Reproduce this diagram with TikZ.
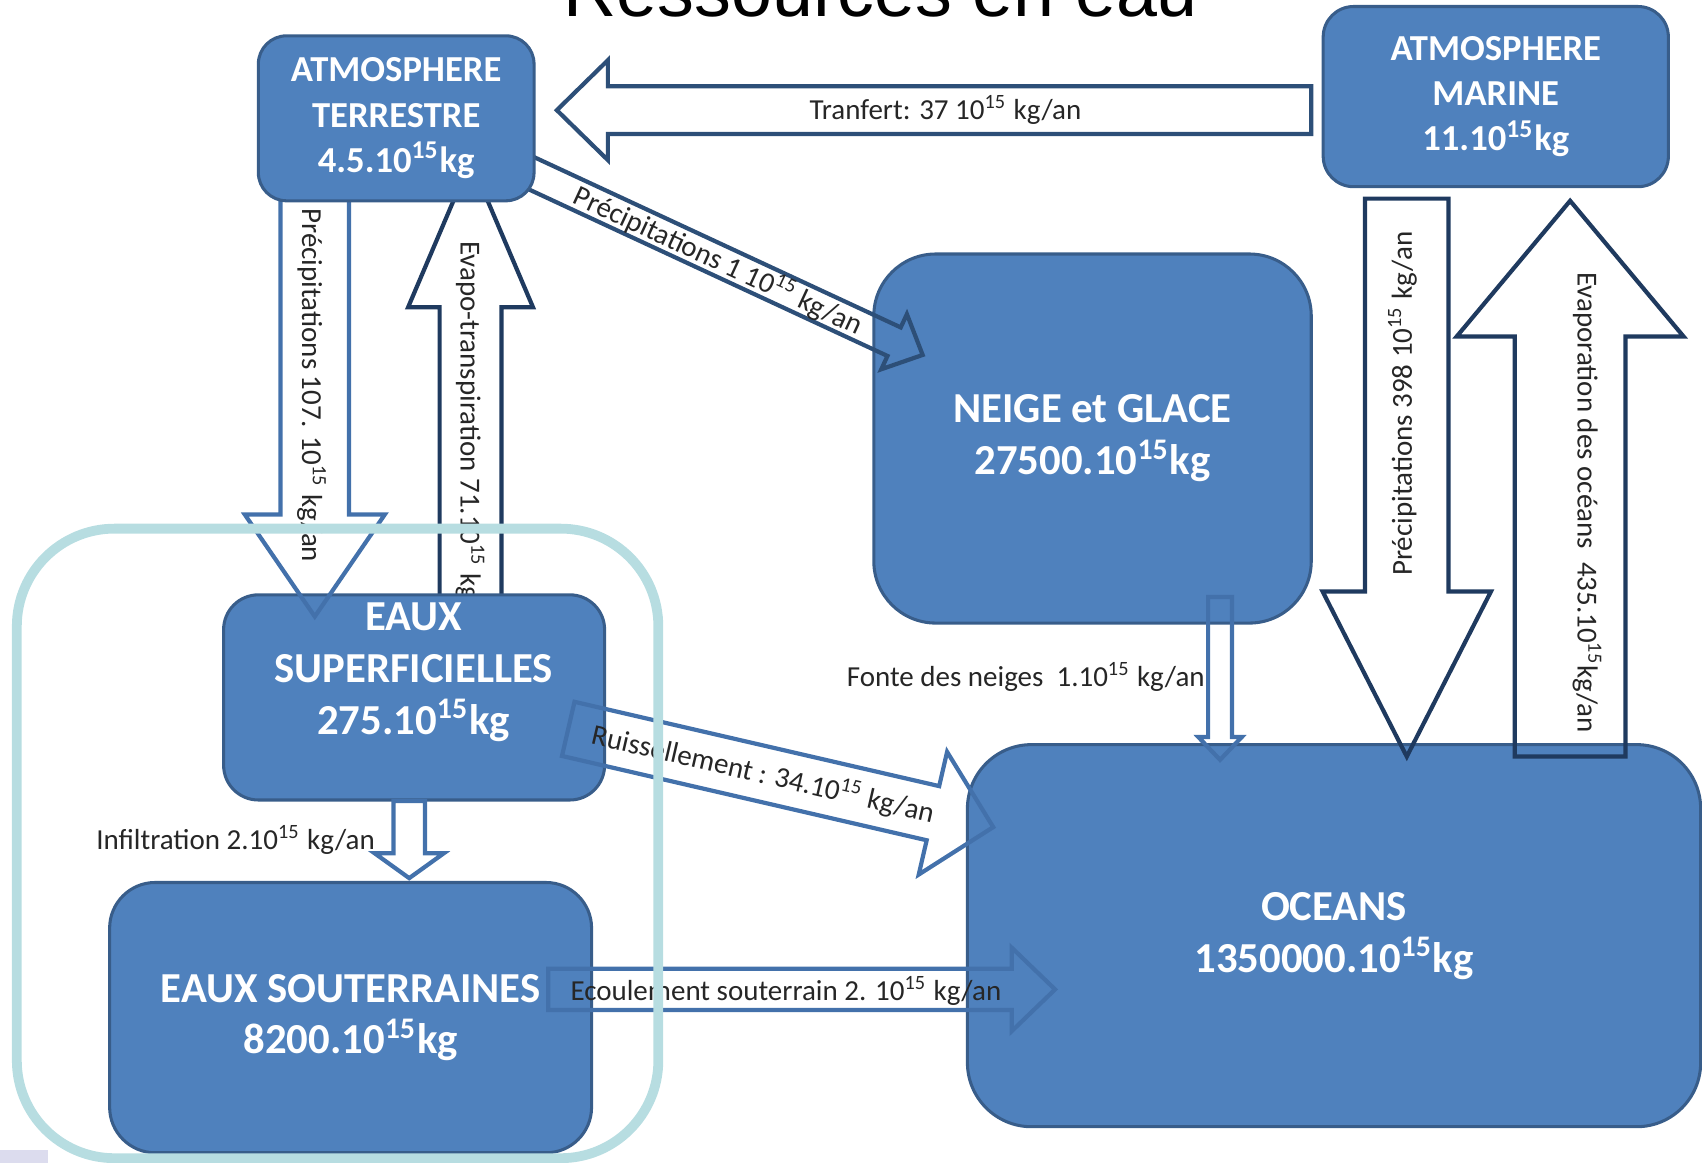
\documentclass[tikz,border=0pt]{standalone}
\usepackage{fontspec}
\setmainfont{Carlito}
\newfontfamily\titleFont{Liberation Sans}
\usetikzlibrary{calc}
\definecolor{boxBlue}{HTML}{4F81BD}
\definecolor{boxEdge}{HTML}{385D8A}
\definecolor{arrowNavy}{HTML}{1F3A5F}
\definecolor{arrowSlate}{HTML}{2D4F78}
\definecolor{arrowBlue}{HTML}{4371AB}
\definecolor{frameCyan}{HTML}{B7DDE1}
\definecolor{cornerLilac}{HTML}{DCDCEE}
\tikzset{
  reservoir/.style={rectangle, draw=boxEdge, line width=0.8pt, fill=boxBlue, text=white, align=center, inner sep=0pt, font=\bfseries\fontsize{11.2}{13.6}\selectfont},
  reservoirText/.style={text=white, align=center, inner sep=0pt, font=\bfseries\fontsize{11.2}{13.6}\selectfont},
  atmBox/.style={reservoir, font=\bfseries\fontsize{9.6}{11.9}\selectfont},
  blockNavy/.style={draw=arrowNavy, line width=1.1pt},
  blockSlate/.style={draw=arrowSlate, line width=1.1pt},
  blockBlue/.style={draw=arrowBlue, line width=1.1pt},
  flowLabel/.style={font=\fontsize{7.6}{9}\selectfont, text=black!85, inner sep=0pt},
  groupFrame/.style={rectangle, draw=frameCyan, line width=0.09cm, rounded corners=0.9cm},
  title/.style={font=\titleFont\fontsize{19.3}{23}\selectfont, anchor=base, inner sep=0pt}
}
\newcommand{\expo}{10\textsuperscript{15}}
\newcommand{\blockArrow}[6]{%
  \coordinate (#2base) at ($(#3)!#6!(#2)$);
  \draw[#1] ($(#2)!#4!90:(#3)$) -- ($(#2base)!#4!-90:(#2)$) -- ($(#2base)!#5!-90:(#2)$) -- (#3)
    -- ($(#2base)!#5!90:(#2)$) -- ($(#2base)!#4!90:(#2)$) -- ($(#2)!#4!-90:(#3)$) -- cycle;
}

\begin{document}
\begin{tikzpicture}[x=1cm,y=1cm]
\useasboundingbox (0,0) rectangle (15.68,-10.71);
\clip (0,0) rectangle (15.68,-10.71);

% ------------------------------------------------------------------
% Title
% ------------------------------------------------------------------
\node[title] (title) at (8.115,-0.15) {Ressources en eau};

% ------------------------------------------------------------------
% Evapo-transpiration (under the surface water box)
% ------------------------------------------------------------------
\coordinate (evapoTail) at (4.335,-6.00);
\coordinate (evapoTip) at (4.335,-1.48);
\blockArrow{blockNavy}{evapoTail}{evapoTip}{0.285cm}{0.575cm}{1.35cm}
\node[flowLabel, rotate=-90] (evapoLbl) at (4.33,-4.065) {Evapo-transpiration 71.\expo{} kg/an};

% ------------------------------------------------------------------
% Reservoirs
% ------------------------------------------------------------------
\node[reservoir, rounded corners=0.57cm, minimum width=4.03cm, minimum height=3.40cm] (neige) at (10.065,-4.04) {NEIGE et GLACE\\27500.\expo kg};
\node[reservoir, rounded corners=0.59cm, minimum width=6.755cm, minimum height=3.52cm] (oceans) at (12.29,-8.62) {OCEANS\\1350000.\expo kg};
\node[reservoir, rounded corners=0.32cm, minimum width=3.51cm, minimum height=1.89cm] (eauxSup) at (3.815,-6.425) {};
\node[reservoirText] (eauxSupText) at (3.81,-6.19) {EAUX\\SUPERFICIELLES\\275.\expo kg};
\node[reservoir, rounded corners=0.42cm, minimum width=4.44cm, minimum height=2.49cm] (eauxSout) at (3.23,-9.375) {EAUX SOUTERRAINES\\8200.\expo kg};

% ------------------------------------------------------------------
% Flows
% ------------------------------------------------------------------
\coordinate (p107Tail) at (2.90,-1.50);
\coordinate (p107Tip) at (2.90,-5.68);
\blockArrow{blockBlue}{p107Tail}{p107Tip}{0.315cm}{0.645cm}{0.94cm}
\node[flowLabel, rotate=-90] (p107Lbl) at (2.87,-3.55) {Précipitations 107. \expo{} kg/an};

\coordinate (p1Tail) at (4.70,-1.505);
\coordinate (p1Tip) at (8.50,-3.27);
\blockArrow{blockSlate}{p1Tail}{p1Tip}{0.145cm}{0.28cm}{0.29cm}
\node[flowLabel, rotate=-24.9] (p1Lbl) at (6.62,-2.40) {Précipitations 1 \expo{} kg/an};

\coordinate (trTail) at (12.08,-1.015);
\coordinate (trTip) at (5.13,-1.015);
\blockArrow{blockSlate}{trTail}{trTip}{0.22cm}{0.46cm}{0.47cm}
\node[flowLabel] (trLbl) at (8.71,-1.01) {Tranfert: 37 \expo{} kg/an};

\coordinate (ruTail) at (5.235,-6.715);
\coordinate (ruTip) at (9.15,-7.62);
\blockArrow{blockBlue}{ruTail}{ruTip}{0.256cm}{0.58cm}{0.57cm}
\node[flowLabel, rotate=-13] (ruLbl) at (7.03,-7.13) {Ruissellement : 34.\expo{} kg/an};

\coordinate (ecTail) at (5.05,-9.115);
\coordinate (ecTip) at (9.72,-9.115);
\blockArrow{blockBlue}{ecTail}{ecTip}{0.19cm}{0.385cm}{0.40cm}
\node[flowLabel] (ecLbl) at (7.24,-9.13) {Ecoulement souterrain 2. \expo{} kg/an};

\coordinate (foTail) at (11.24,-5.50);
\coordinate (foTip) at (11.24,-7.00);
\blockArrow{blockBlue}{foTail}{foTip}{0.11cm}{0.20cm}{0.21cm}
\node[flowLabel] (foLbl) at (9.45,-6.24) {Fonte des neiges\ \ 1.\expo{} kg/an};

\coordinate (inTail) at (3.77,-7.38);
\coordinate (inTip) at (3.77,-8.09);
\blockArrow{blockBlue}{inTail}{inTip}{0.145cm}{0.32cm}{0.23cm}
\node[flowLabel, anchor=east] (inLbl) at (3.46,-7.74) {Infiltration 2.\expo{} kg/an};

\coordinate (p398Tail) at (12.96,-1.83);
\coordinate (p398Tip) at (12.96,-6.97);
\blockArrow{blockNavy}{p398Tail}{p398Tip}{0.385cm}{0.775cm}{1.52cm}
\node[flowLabel, rotate=90] (p398Lbl) at (12.92,-3.72) {Précipitations 398 \expo{} kg/an};

\coordinate (evOcTail) at (14.465,-6.97);
\coordinate (evOcTip) at (14.465,-1.85);
\blockArrow{blockNavy}{evOcTail}{evOcTip}{0.51cm}{1.045cm}{1.25cm}
\node[flowLabel, rotate=-90] (evOcLbl) at (14.62,-4.63) {Evaporation des océans\ \ 435.\expo kg/an};

% ------------------------------------------------------------------
% Atmosphere boxes (on top of the arrow ends)
% ------------------------------------------------------------------
\node[atmBox, rounded corners=0.26cm, minimum width=2.54cm, minimum height=1.52cm] (atmT) at (3.65,-1.09) {ATMOSPHERE\\TERRESTRE\\4.5.\expo kg};
\node[atmBox, rounded corners=0.28cm, minimum width=3.18cm, minimum height=1.66cm] (atmM) at (13.78,-0.89) {ATMOSPHERE\\MARINE\\11.\expo kg};

% ------------------------------------------------------------------
% Land frame
% ------------------------------------------------------------------
\node[groupFrame, minimum width=5.91cm, minimum height=5.80cm] (landGroup) at (3.11,-7.77) {};
\fill[cornerLilac] (0,-10.59) rectangle (0.44,-10.71);

\end{tikzpicture}
\end{document}
